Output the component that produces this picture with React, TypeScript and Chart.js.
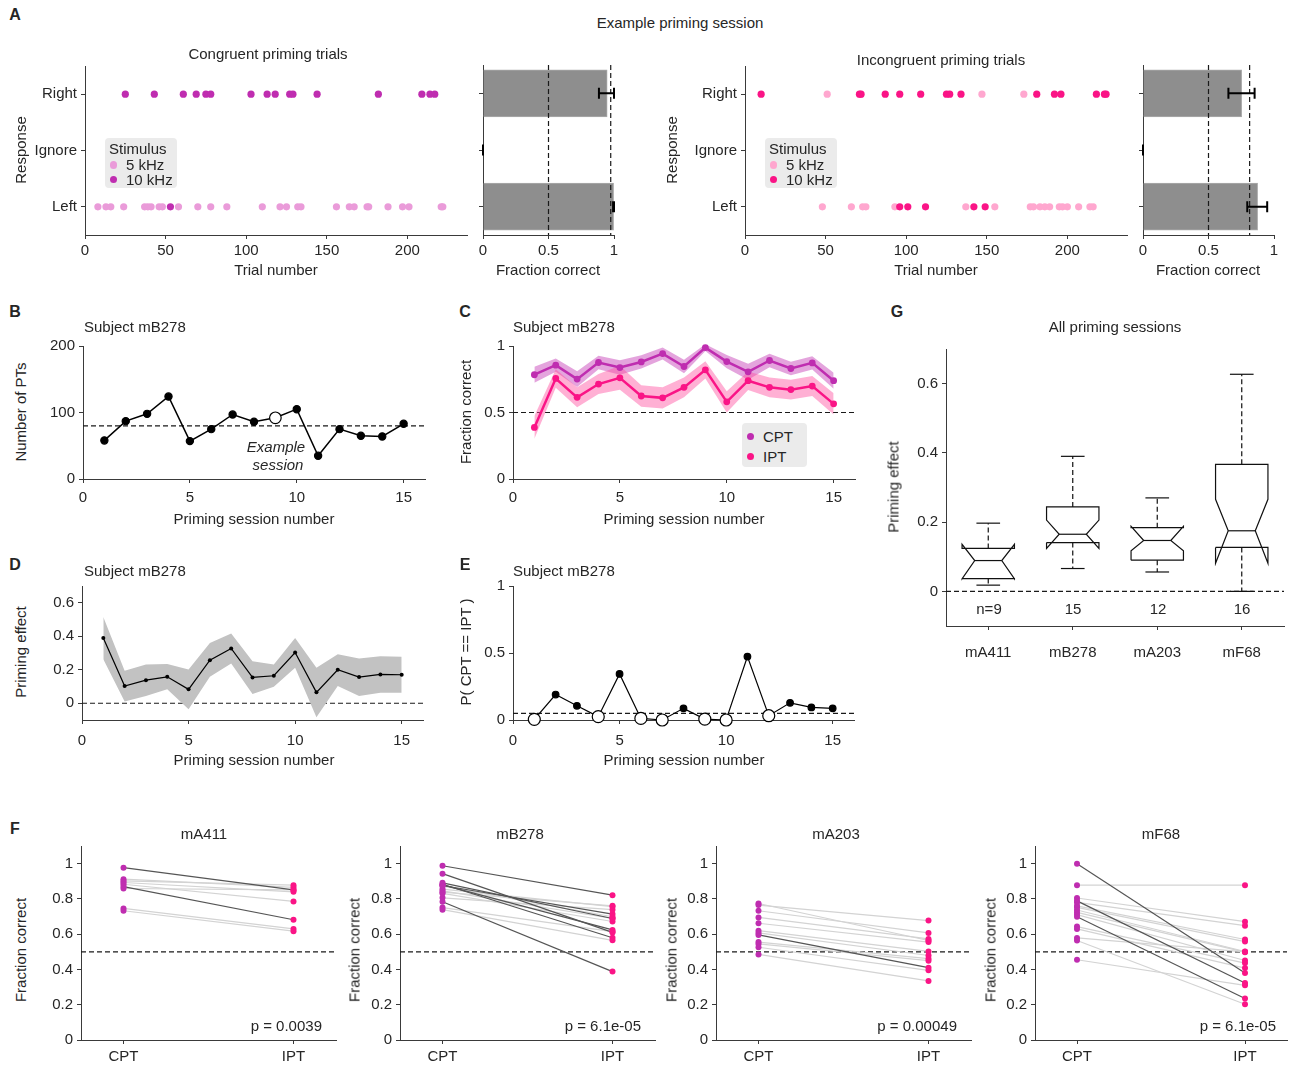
import React, { useEffect, useRef } from 'react';
import { Chart, registerables } from 'chart.js';

Chart.register(...registerables);

const FONT = "'Liberation Sans', Arial, Helvetica, sans-serif";
const FS = 15;
const TXT = '#262626';
const AX = '#3a3a3a';
const COL_C10 = '#bf2db0';
const COL_C5 = '#ea9bd9';
const COL_I10 = '#fa1486';
const COL_I5 = '#ffa7cf';
const BAR = '#8e8e8e';

Chart.defaults.font.family = FONT;
Chart.defaults.font.size = FS;
Chart.defaults.color = TXT;

// ---------------- DATA ----------------
// Panel A: example priming session (trial numbers), response 2 = Right, 1 = Ignore, 0 = Left
const respTickLabels = ['Left', 'Ignore', 'Right'];
const congRight10k = [25, 43, 61, 69, 75, 78, 103, 113, 118, 127, 129, 144, 182, 209, 214, 217];
const congLeft5k = [8, 13, 16, 24, 37, 39, 41, 46, 48, 58, 70, 78, 88, 110, 121, 125, 132, 134, 156, 164, 167, 175, 176, 188, 197, 201, 221, 222];
const congLeft10k = [53];
const incRight10k = [10, 71, 72, 87, 96, 109, 125, 127, 134, 181, 192, 196, 218, 223, 224];
const incRight5k = [51, 147, 173];
const incLeft5k = [48, 66, 73, 75, 93, 137, 155, 177, 179, 183, 186, 189, 195, 197, 200, 207, 214, 216];
const incLeft10k = [96, 101, 112, 142, 149];

// Panel A bars: fraction correct per response (Right, Ignore, Left)
const barLabels = ['Right', 'Ignore', 'Left'];
const congFrac = [0.948, 0, 0.997];
const congErrLo = [0.885, 0, 0.993];
const congErrHi = [1.0, 0, 1.0];
const congRef = 0.975;
const incFrac = [0.753, 0, 0.875];
const incErrLo = [0.652, 0, 0.796];
const incErrHi = [0.852, 0, 0.948];
const incRef = 0.814;

// Panels B-E: subject mB278 sessions
const sessions = [1, 2, 3, 4, 5, 6, 7, 8, 9, 10, 11, 12, 13, 14, 15];
const nPT = [58, 87, 98, 124, 57, 75, 97, 86, 92, 105, 35, 75, 65, 64, 83];
const nPTMean = 80;
const exampleSession = 9;
const cptMB278 = [0.784, 0.856, 0.751, 0.876, 0.838, 0.88, 0.943, 0.846, 0.988, 0.883, 0.806, 0.891, 0.831, 0.873, 0.739];
const cptErr = [0.06, 0.05, 0.06, 0.05, 0.055, 0.05, 0.045, 0.05, 0.025, 0.05, 0.06, 0.05, 0.05, 0.05, 0.06];
const iptMB278 = [0.388, 0.756, 0.614, 0.714, 0.761, 0.624, 0.61, 0.689, 0.821, 0.58, 0.739, 0.689, 0.672, 0.699, 0.565];
const iptErr = [0.085, 0.07, 0.075, 0.075, 0.09, 0.08, 0.08, 0.075, 0.065, 0.08, 0.07, 0.075, 0.075, 0.075, 0.08];
const priming = [0.39, 0.103, 0.138, 0.158, 0.083, 0.257, 0.327, 0.154, 0.164, 0.303, 0.065, 0.2, 0.156, 0.172, 0.17];
const primingHi = [0.515, 0.194, 0.232, 0.234, 0.202, 0.36, 0.416, 0.251, 0.232, 0.39, 0.212, 0.293, 0.267, 0.281, 0.277];
const primingLo = [0.263, 0.01, 0.043, 0.083, -0.036, 0.158, 0.238, 0.055, 0.099, 0.212, -0.083, 0.103, 0.043, 0.063, 0.063];
const pSame = [0.005, 0.19, 0.106, 0.025, 0.344, 0.012, 0.0, 0.087, 0.007, 0.0, 0.473, 0.032, 0.128, 0.094, 0.087];
const pThreshold = 0.05;

// Panel G: priming effect box plots
const boxSubjects = ['mA411', 'mB278', 'mA203', 'mF68'];
const boxN = ['n=9', '15', '12', '16'];
const boxQ1 = [0.037, 0.141, 0.09, 0.127];
const boxMed = [0.089, 0.165, 0.147, 0.175];
const boxQ3 = [0.124, 0.244, 0.184, 0.367];
const boxNotchLo = [0.036, 0.124, 0.117, 0.081];
const boxNotchHi = [0.136, 0.206, 0.188, 0.266];
const boxWhiskLo = [0.018, 0.066, 0.056, 0.0];
const boxWhiskHi = [0.197, 0.39, 0.27, 0.627];

// Panel F: CPT vs IPT per session
const fA411Cpt = [0.977, 0.912, 0.902, 0.893, 0.883, 0.87, 0.859, 0.746, 0.733];
const fA411Ipt = [0.851, 0.865, 0.878, 0.84, 0.786, 0.682, 0.851, 0.63, 0.617];
const fA411Sig = [1, 0, 0, 0, 0, 1, 0, 0, 0];
const fB278Sig = [1, 0, 0, 1, 0, 1, 1, 0, 1, 1, 0, 1, 0, 0, 0];
const fA203Cpt = [0.774, 0.765, 0.733, 0.695, 0.662, 0.62, 0.607, 0.596, 0.555, 0.545, 0.526, 0.485];
const fA203Ipt = [0.564, 0.677, 0.607, 0.573, 0.555, 0.502, 0.479, 0.41, 0.461, 0.45, 0.395, 0.335];
const fA203Sig = [0, 0, 0, 0, 0, 0, 0, 1, 0, 0, 0, 0];
const fF68Cpt = [1.0, 0.878, 0.805, 0.789, 0.78, 0.761, 0.752, 0.737, 0.724, 0.711, 0.699, 0.643, 0.63, 0.579, 0.564, 0.455];
const fF68Ipt = [0.38, 0.878, 0.671, 0.323, 0.648, 0.57, 0.558, 0.502, 0.498, 0.451, 0.235, 0.436, 0.408, 0.5, 0.203, 0.31];
const fF68Sig = [1, 0, 0, 1, 0, 0, 0, 0, 0, 0, 1, 0, 0, 0, 0, 0];
const fPValues = ['p = 0.0039', 'p = 6.1e-05', 'p = 0.00049', 'p = 6.1e-05'];

// ---------------- helpers ----------------
const pts = (xs: number[], ys: number[]) => xs.map((x, i) => ({ x, y: ys[i] }));
const row = (xs: number[], y: number) => xs.map((x) => ({ x, y }));

function linAxis(min: number, max: number, ticks: number[], labels?: string[], tickPad = 4) {
  return {
    type: 'linear',
    min,
    max,
    afterBuildTicks: (s: any) => {
      s.ticks = ticks.map((v) => ({ value: v }));
    },
    ticks: {
      autoSkip: false,
      maxRotation: 0,
      minRotation: 0,
      padding: tickPad,
      color: TXT,
      font: { size: FS, family: FONT },
      callback: (v: any, i: number) => (labels ? labels[i] : String(v)),
    },
    grid: { drawOnChartArea: false, drawTicks: true, tickLength: 4, color: AX, lineWidth: 1 },
    border: { display: true, color: AX, width: 1 },
  };
}

function refLines(lines: { x?: number; y?: number }[], front: boolean) {
  const draw = (chart: any) => {
    const { ctx, chartArea: ca, scales } = chart;
    ctx.save();
    ctx.strokeStyle = '#1a1a1a';
    ctx.lineWidth = 1.2;
    ctx.setLineDash([5, 3]);
    lines.forEach((ln) => {
      ctx.beginPath();
      if (ln.x !== undefined) {
        const px = scales.x.getPixelForValue(ln.x);
        ctx.moveTo(px, ca.top);
        ctx.lineTo(px, ca.bottom);
      } else {
        const py = scales.y.getPixelForValue(ln.y);
        ctx.moveTo(ca.left, py);
        ctx.lineTo(ca.right, py);
      }
      ctx.stroke();
    });
    ctx.restore();
  };
  return {
    id: 'refLines',
    beforeDatasetsDraw(chart: any) {
      if (!front) draw(chart);
    },
    afterDatasetsDraw(chart: any) {
      if (front) draw(chart);
    },
  };
}

function errorBars(lo: number[], hi: number[]) {
  return {
    id: 'errorBars',
    afterDatasetsDraw(chart: any) {
      const { ctx, scales } = chart;
      ctx.save();
      ctx.strokeStyle = '#000';
      ctx.lineWidth = 2;
      lo.forEach((l, i) => {
        const y = scales.y.getPixelForValue(i);
        const x1 = scales.x.getPixelForValue(l);
        const x2 = scales.x.getPixelForValue(hi[i]);
        ctx.beginPath();
        ctx.moveTo(x1, y);
        ctx.lineTo(x2, y);
        ctx.moveTo(x1, y - 5.5);
        ctx.lineTo(x1, y + 5.5);
        ctx.moveTo(x2, y - 5.5);
        ctx.lineTo(x2, y + 5.5);
        ctx.stroke();
      });
      ctx.restore();
    },
  };
}

type Area = { l: number; t: number; r: number; b: number };

function ChartBox({ area, yW, xH = 34, padT = 12, padR = 14, make }: { area: Area; yW: number; xH?: number; padT?: number; padR?: number; make: () => any }) {
  const ref = useRef<HTMLCanvasElement>(null);
  const left = area.l - yW;
  const top = area.t - padT;
  const width = area.r - area.l + yW + padR;
  const height = area.b - area.t + padT + xH;
  useEffect(() => {
    const cfg = make();
    const opts = cfg.options || {};
    cfg.options = {
      ...opts,
      responsive: false,
      maintainAspectRatio: false,
      animation: false,
      events: [],
      layout: { padding: { top: padT, right: padR, left: 0, bottom: 0 } },
      plugins: { legend: { display: false }, tooltip: { enabled: false }, title: { display: false } },
    };
    cfg.options.scales.x.afterFit = (s: any) => {
      s.height = xH;
    };
    cfg.options.scales.y.afterFit = (s: any) => {
      s.width = yW;
    };
    const chart = new Chart(ref.current as HTMLCanvasElement, cfg);
    return () => chart.destroy();
  }, []);
  return <canvas ref={ref} width={width} height={height} style={{ position: 'absolute', left, top, width, height }} />;
}

function Txt({ x, y, text, size = FS, bold = false, italic = false, rot = false, anchor = 'middle' }: any) {
  const tx = anchor === 'start' ? '0' : anchor === 'end' ? '-100%' : '-50%';
  return (
    <div
      style={{
        position: 'absolute',
        left: rot ? x - 1 : x,
        top: rot ? y : y - 1,
        transform: `translate(${tx}, -50%)${rot ? ' rotate(-90deg)' : ''}`,
        fontFamily: FONT,
        fontSize: size,
        fontWeight: bold ? 'bold' : 'normal',
        fontStyle: italic ? 'italic' : 'normal',
        lineHeight: 1,
        whiteSpace: 'nowrap',
        color: TXT,
      }}
    >
      {text}
    </div>
  );
}

function LegendBox({ x, y, w, h, title, items }: { x: number; y: number; w: number; h: number; title?: string; items: { label: string; color: string; dy: number }[] }) {
  return (
    <div style={{ position: 'absolute', left: x, top: y, width: w, height: h, background: '#ebebeb', borderRadius: 4 }}>
      {title && <Txt x={4} y={11} text={title} anchor="start" />}
      {items.map((it) => (
        <React.Fragment key={it.label}>
          <div style={{ position: 'absolute', left: 8.5 - 3.6, top: it.dy - 3.6, width: 7.2, height: 7.2, borderRadius: '50%', background: it.color }} />
          <Txt x={21} y={it.dy} text={it.label} anchor="start" />
        </React.Fragment>
      ))}
    </div>
  );
}

// ---------------- chart builders ----------------
const dotSet = (data: any[], color: string, order: number) => ({
  data,
  pointRadius: 3.6,
  pointBackgroundColor: color,
  pointBorderColor: color,
  pointBorderWidth: 0,
  backgroundColor: color,
  borderWidth: 0,
  order,
  clip: false,
});

function makeRaster(right10: number[], right5: number[], left5: number[], left10: number[], c10: string, c5: string) {
  return () => ({
    type: 'scatter',
    data: {
      datasets: [
        dotSet([...row(right10, 2), ...row(left10, 0)], c10, 0),
        dotSet([...row(right5, 2), ...row(left5, 0)], c5, 1),
      ],
    },
    options: {
      scales: {
        x: linAxis(0, 237, [0, 50, 100, 150, 200], undefined, 3),
        y: linAxis(-0.5, 2.5, [0, 1, 2], respTickLabels, 4),
      },
    },
  });
}

function makeBars(frac: number[], lo: number[], hi: number[], ref: number) {
  return () => ({
    type: 'bar',
    data: {
      labels: barLabels,
      datasets: [{ data: frac, backgroundColor: BAR, borderColor: '#ababab', borderWidth: 1, barThickness: 47 }],
    },
    options: {
      indexAxis: 'y',
      scales: {
        x: linAxis(0, 1, [0, 0.5, 1], undefined, 3),
        y: {
          type: 'category',
          offset: true,
          grid: { offset: false, drawOnChartArea: false, drawTicks: true, tickLength: 4, color: AX },
          border: { display: true, color: AX, width: 1 },
          ticks: { callback: () => '', padding: 0 },
        },
      },
    },
    plugins: [refLines([{ x: 0.5 }, { x: ref }], true), errorBars(lo, hi)],
  });
}

const sessionAxis = (pad: number) => linAxis(0, 16, [0, 5, 10, 15], undefined, pad);

function makeB() {
  return {
    type: 'line',
    data: {
      datasets: [
        {
          data: pts(sessions, nPT),
          borderColor: '#000',
          borderWidth: 1.5,
          tension: 0,
          pointRadius: sessions.map((s) => (s === exampleSession ? 5.8 : 3.6)),
          pointBackgroundColor: sessions.map((s) => (s === exampleSession ? '#fff' : '#000')),
          pointBorderColor: '#000',
          pointBorderWidth: 1.2,
          clip: false,
        },
      ],
    },
    options: { scales: { x: sessionAxis(5.5), y: linAxis(0, 200, [0, 100, 200]) } },
    plugins: [refLines([{ y: nPTMean }], false)],
  };
}

function makeC() {
  const band = (vals: number[], err: number[], sign: number, color: string, fill: any, order: number) => ({
    data: pts(
      sessions,
      vals.map((v, i) => v + sign * err[i])
    ),
    borderWidth: 0,
    pointRadius: 0,
    backgroundColor: color,
    fill,
    tension: 0,
    order,
  });
  const main = (vals: number[], color: string, order: number) => ({
    data: pts(sessions, vals),
    borderColor: color,
    borderWidth: 2.5,
    pointRadius: 3.4,
    pointBackgroundColor: color,
    pointBorderColor: color,
    pointBorderWidth: 0,
    tension: 0,
    fill: false,
    order,
    clip: false,
  });
  return {
    type: 'line',
    data: {
      datasets: [
        main(cptMB278, COL_C10, 0),
        main(iptMB278, COL_I10, 1),
        band(cptMB278, cptErr, 1, 'rgba(0,0,0,0)', false, 6),
        band(cptMB278, cptErr, -1, 'rgba(201, 74, 188, 0.5)', '-1', 6),
        band(iptMB278, iptErr, 1, 'rgba(0,0,0,0)', false, 5),
        band(iptMB278, iptErr, -1, 'rgba(255, 80, 160, 0.45)', '-1', 5),
      ],
    },
    options: { scales: { x: sessionAxis(5.5), y: linAxis(0, 1, [0, 0.5, 1]) } },
    plugins: [refLines([{ y: 0.5 }], false)],
  };
}

function makeD() {
  return {
    type: 'line',
    data: {
      datasets: [
        {
          data: pts(sessions, priming),
          borderColor: '#000',
          borderWidth: 1.2,
          pointRadius: 2,
          pointBackgroundColor: '#000',
          pointBorderWidth: 0,
          tension: 0,
          fill: false,
          order: 0,
        },
        { data: pts(sessions, primingHi), borderWidth: 0, pointRadius: 0, fill: false, tension: 0, order: 5 },
        { data: pts(sessions, primingLo), borderWidth: 0, pointRadius: 0, fill: '-1', backgroundColor: '#c2c2c2', tension: 0, order: 5 },
      ],
    },
    options: { scales: { x: sessionAxis(8), y: linAxis(-0.1, 0.7, [0, 0.2, 0.4, 0.6]) } },
    plugins: [refLines([{ y: 0 }], false)],
  };
}

function makeE() {
  return {
    type: 'line',
    data: {
      datasets: [
        {
          data: pts(sessions, pSame),
          borderColor: '#000',
          borderWidth: 1.2,
          tension: 0,
          pointRadius: pSame.map((p) => (p < pThreshold ? 6 : 3.3)),
          pointBackgroundColor: pSame.map((p) => (p < pThreshold ? '#fff' : '#000')),
          pointBorderColor: '#000',
          pointBorderWidth: 1.2,
          clip: false,
        },
      ],
    },
    options: { scales: { x: sessionAxis(8), y: linAxis(0, 1, [0, 0.5, 1]) } },
    plugins: [refLines([{ y: pThreshold }], false)],
  };
}

function makeG() {
  const W_BOX = 0.31;
  const W_MED = 0.16;
  const W_CAP = 0.14;
  const seg = (data: { x: number; y: number }[], dash?: number[]) => ({
    data,
    showLine: true,
    pointRadius: 0,
    borderColor: '#111',
    borderWidth: 1.2,
    borderDash: dash || [],
    fill: false,
    clip: false,
  });
  const ds: any[] = [];
  boxSubjects.forEach((_, i) => {
    const c = i + 1;
    const L = c - W_BOX;
    const R = c + W_BOX;
    const outline = [
      [L, boxQ1[i]],
      [L, boxNotchLo[i]],
      [c - W_MED, boxMed[i]],
      [L, boxNotchHi[i]],
      [L, boxQ3[i]],
      [R, boxQ3[i]],
      [R, boxNotchHi[i]],
      [c + W_MED, boxMed[i]],
      [R, boxNotchLo[i]],
      [R, boxQ1[i]],
      [L, boxQ1[i]],
    ].map(([x, y]) => ({ x, y }));
    ds.push(seg(outline));
    ds.push(seg([{ x: c - W_MED, y: boxMed[i] }, { x: c + W_MED, y: boxMed[i] }]));
    ds.push(seg([{ x: c, y: boxQ3[i] }, { x: c, y: boxWhiskHi[i] }], [5, 3]));
    ds.push(seg([{ x: c, y: boxQ1[i] }, { x: c, y: boxWhiskLo[i] }], [5, 3]));
    ds.push(seg([{ x: c - W_CAP, y: boxWhiskHi[i] }, { x: c + W_CAP, y: boxWhiskHi[i] }]));
    ds.push(seg([{ x: c - W_CAP, y: boxWhiskLo[i] }, { x: c + W_CAP, y: boxWhiskLo[i] }]));
  });
  return {
    type: 'scatter',
    data: { datasets: ds },
    options: {
      scales: {
        x: linAxis(0.5, 4.5, [1, 2, 3, 4], boxSubjects, 13.5),
        y: linAxis(-0.1, 0.7, [0, 0.2, 0.4, 0.6]),
      },
    },
    plugins: [refLines([{ y: 0 }], false)],
  };
}

function makeF(cptV: number[], iptV: number[], sig: number[]) {
  return () => {
    const lines = cptV.map((c, i) => ({
      data: [
        { x: 1, y: c },
        { x: 2, y: iptV[i] },
      ],
      showLine: true,
      pointRadius: 0,
      borderColor: sig[i] ? '#555555' : '#d3d3d3',
      borderWidth: 1.2,
      order: sig[i] ? 2 : 3,
    }));
    const dots = (xv: number, vals: number[], color: string) => ({
      data: vals.map((v) => ({ x: xv, y: v })),
      pointRadius: 3,
      pointBackgroundColor: color,
      pointBorderColor: color,
      pointBorderWidth: 0,
      backgroundColor: color,
      order: 0,
      clip: false,
    });
    return {
      type: 'scatter',
      data: { datasets: [dots(1, cptV, COL_C10), dots(2, iptV, COL_I10), ...lines] },
      options: {
        scales: {
          x: linAxis(0.75, 2.25, [1, 2], ['CPT', 'IPT'], 3.5),
          y: linAxis(0, 1.1, [0, 0.2, 0.4, 0.6, 0.8, 1]),
        },
      },
      plugins: [refLines([{ y: 0.5 }], false)],
    };
  };
}

// ---------------- layout ----------------
const fAreas: Area[] = [
  { l: 81, t: 845, r: 336, b: 1040 },
  { l: 400, t: 845, r: 655, b: 1040 },
  { l: 716, t: 845, r: 971, b: 1040 },
  { l: 1035, t: 845, r: 1290, b: 1040 },
];
const fTitleX = [204, 520, 836, 1161];
const fYLabelX = [21, 355, 672, 991];
const fMakers = [
  makeF(fA411Cpt, fA411Ipt, fA411Sig),
  makeF(cptMB278, iptMB278, fB278Sig),
  makeF(fA203Cpt, fA203Ipt, fA203Sig),
  makeF(fF68Cpt, fF68Ipt, fF68Sig),
];
const gCatX = [989, 1073, 1158, 1242];

export default function App() {
  return (
    <div style={{ position: 'absolute', left: 0, top: 0, width: 1291, height: 1066, overflow: 'hidden', background: '#fff' }}>
      {/* Panel A */}
      <ChartBox area={{ l: 85, t: 65, r: 467, b: 235 }} yW={60} make={makeRaster(congRight10k, [], congLeft5k, congLeft10k, COL_C10, COL_C5)} />
      <ChartBox area={{ l: 483, t: 65, r: 614, b: 235 }} yW={10} make={makeBars(congFrac, congErrLo, congErrHi, congRef)} />
      <ChartBox area={{ l: 745, t: 65, r: 1127, b: 235 }} yW={60} make={makeRaster(incRight10k, incRight5k, incLeft5k, incLeft10k, COL_I10, COL_I5)} />
      <ChartBox area={{ l: 1143, t: 65, r: 1274, b: 235 }} yW={10} make={makeBars(incFrac, incErrLo, incErrHi, incRef)} />
      {/* Panels B-E */}
      <ChartBox area={{ l: 83, t: 345, r: 425, b: 479 }} yW={50} make={makeB} />
      <ChartBox area={{ l: 513, t: 345, r: 855, b: 479 }} yW={45} make={makeC} />
      <ChartBox area={{ l: 82, t: 585, r: 423, b: 720 }} yW={50} xH={36} make={makeD} />
      <ChartBox area={{ l: 513, t: 585, r: 854, b: 720 }} yW={45} xH={36} make={makeE} />
      {/* Panel G */}
      <ChartBox area={{ l: 946, t: 348, r: 1284, b: 626 }} yW={50} xH={40} padR={6} make={makeG} />
      {/* Panel F */}
      {fAreas.map((a, i) => (
        <ChartBox key={i} area={a} yW={40} xH={26} padR={i === 3 ? 1 : 14} make={fMakers[i]} />
      ))}

      {/* Texts */}
      <Txt x={15} y={16} text="A" bold size={16} />
      <Txt x={680} y={23} text="Example priming session" />
      <Txt x={268} y={54} text="Congruent priming trials" />
      <Txt x={941} y={60} text="Incongruent priming trials" />
      <Txt x={21} y={150} text="Response" rot />
      <Txt x={672} y={150} text="Response" rot />
      <Txt x={276} y={270} text="Trial number" />
      <Txt x={936} y={270} text="Trial number" />
      <Txt x={548} y={270} text="Fraction correct" />
      <Txt x={1208} y={270} text="Fraction correct" />
      <LegendBox
        x={105}
        y={138}
        w={72}
        h={50}
        title="Stimulus"
        items={[
          { label: '5 kHz', color: COL_C5, dy: 27 },
          { label: '10 kHz', color: COL_C10, dy: 41.5 },
        ]}
      />
      <LegendBox
        x={765}
        y={138}
        w={72}
        h={50}
        title="Stimulus"
        items={[
          { label: '5 kHz', color: COL_I5, dy: 27 },
          { label: '10 kHz', color: COL_I10, dy: 41.5 },
        ]}
      />

      <Txt x={15} y={313} text="B" bold size={16} />
      <Txt x={84} y={327} text="Subject mB278" anchor="start" />
      <Txt x={21} y={412} text="Number of PTs" rot />
      <Txt x={254} y={519} text="Priming session number" />
      <Txt x={276} y={447} text="Example" italic />
      <Txt x={278} y={465} text="session" italic />

      <Txt x={465} y={313} text="C" bold size={16} />
      <Txt x={513} y={327} text="Subject mB278" anchor="start" />
      <Txt x={466} y={412} text="Fraction correct" rot />
      <Txt x={684} y={519} text="Priming session number" />
      <LegendBox
        x={742}
        y={423}
        w={65}
        h={44}
        items={[
          { label: 'CPT', color: COL_C10, dy: 13.5 },
          { label: 'IPT', color: COL_I10, dy: 33.5 },
        ]}
      />

      <Txt x={15} y={566} text="D" bold size={16} />
      <Txt x={84} y={571} text="Subject mB278" anchor="start" />
      <Txt x={21} y={652} text="Priming effect" rot />
      <Txt x={254} y={760} text="Priming session number" />

      <Txt x={465} y={566} text="E" bold size={16} />
      <Txt x={513} y={571} text="Subject mB278" anchor="start" />
      <Txt x={466} y={652} text="P( CPT == IPT )" rot />
      <Txt x={684} y={760} text="Priming session number" />

      <Txt x={897} y={313} text="G" bold size={16} />
      <Txt x={1115} y={327} text="All priming sessions" />
      <Txt x={894} y={487} text="Priming effect" rot />
      {boxN.map((n, i) => (
        <Txt key={n} x={gCatX[i]} y={609} text={n} />
      ))}

      <Txt x={15} y={830} text="F" bold size={16} />
      {boxSubjects.map((s, i) => (
        <React.Fragment key={s}>
          <Txt x={fTitleX[i]} y={834} text={s} />
          <Txt x={fYLabelX[i]} y={950} text="Fraction correct" rot />
          <Txt x={fAreas[i].r - 14} y={1026} text={fPValues[i]} anchor="end" />
        </React.Fragment>
      ))}
    </div>
  );
}
